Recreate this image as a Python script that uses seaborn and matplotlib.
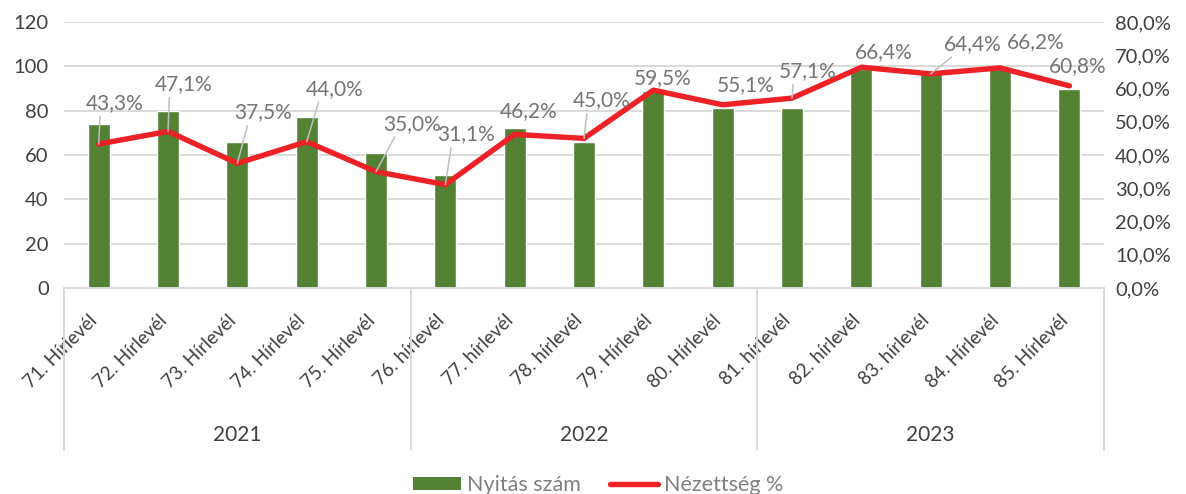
import matplotlib
matplotlib.use("Agg")
import matplotlib.pyplot as plt
import matplotlib.transforms as mtransforms
from matplotlib.lines import Line2D
from matplotlib.patches import Patch
import numpy as np
import pandas as pd
import seaborn as sns

# ---- data ----
newsletters = ["71. Hírlevél", "72. Hírlevél", "73. Hírlevél", "74. Hírlevél", "75. Hírlevél",
               "76. hírlevél", "77. hírlevél", "78. hírlevél", "79. Hírlevél", "80. Hírlevél",
               "81. hírlevél", "82. hírlevél", "83. hírlevél", "84. Hírlevél", "85. Hírlevél"]
years = ["2021", "2022", "2023"]
year_sizes = [5, 5, 5]
opens = [74, 80, 66, 77, 61, 51, 72, 66, 89, 81, 81, 99, 97, 99, 90]
view_pct = [43.3, 47.1, 37.5, 44.0, 35.0, 31.1, 46.2, 45.0, 59.5, 55.1, 57.1, 66.4, 64.4, 66.2, 60.8]
left_ticks = [0, 20, 40, 60, 80, 100, 120]
right_ticks = [0, 10, 20, 30, 40, 50, 60, 70, 80]

# label offsets (pixels) and whether a leader line is drawn
label_offsets = [(16, 41), (16, 47), (26, 51), (28, 53), (36, 48), (21, 50), (14, 23), (18, 38),
                 (9, 12), (23, 20), (16, 27), (22, 15), (42, 30), (36, 26), (8, 20)]
leader = [True, True, True, True, True, True, False, True, False, False, True, False, True, False, False]

GREEN = "#548235"
RED = "#EE2127"
GRID = "#D9D9D9"
TXT = "#404040"
LBL = "#757575"

sns.set_theme(style="white")
plt.rcParams["font.family"] = ["Lato", "DejaVu Sans"]

W, H = 1186, 494
fig = plt.figure(figsize=(W / 100, H / 100), dpi=100)
x0, x1, y0, y1 = 64, 1104, 288, 22
ax = fig.add_axes([x0 / W, (H - y0) / H, (x1 - x0) / W, (y0 - y1) / H])

df = pd.DataFrame({"hirlevel": newsletters, "nyitas": opens, "pct": view_pct})
sns.barplot(data=df, x="hirlevel", y="nyitas", ax=ax, color=GREEN, width=0.32,
            saturation=1, zorder=2)
ax.set_xlim(-0.5, len(newsletters) - 0.5)
ax.set_ylim(0, 120)
ax.set_yticks(left_ticks)
ax.set_yticklabels([str(t) for t in left_ticks], fontsize=14.5, color=TXT)
ax.set_xlabel("")
ax.set_ylabel("")
for s in ax.spines.values():
    s.set_visible(False)
for t in left_ticks:
    ax.axhline(t, color=GRID, lw=1.4, zorder=0)
ax.tick_params(axis="y", length=0, pad=11)
ax.tick_params(axis="x", length=0, pad=24)
ax.set_xticks(range(len(newsletters)))
ax.set_xticklabels(newsletters, rotation=45, ha="right", va="baseline",
                   rotation_mode="anchor", fontsize=13.5, color=TXT)

ax2 = ax.twinx()
sns.lineplot(x=np.arange(len(newsletters)), y=np.array(view_pct), ax=ax2, color=RED,
             lw=3.9, solid_capstyle="round", solid_joinstyle="round", zorder=3)
ax2.set_ylim(0, 80)
ax2.set_yticks(right_ticks)
ax2.set_yticklabels([f"{t},0%" for t in right_ticks], fontsize=14.5, color=TXT)
ax2.tick_params(axis="y", length=0, pad=8)
ax2.set_ylabel("")
for s in ax2.spines.values():
    s.set_visible(False)

for i, (v, off, ld) in enumerate(zip(view_pct, label_offsets, leader)):
    txt = f"{v:.1f}%".replace(".", ",")
    kw = {}
    if ld:
        kw["arrowprops"] = dict(arrowstyle="-", color="#BFBFBF", lw=1.1,
                                shrinkA=0, shrinkB=0, relpos=(0.25, 0.1))
    ax2.annotate(txt, xy=(i, v), xytext=off, textcoords="offset pixels",
                 ha="center", va="center", fontsize=15, color=LBL, zorder=4, **kw)

# hierarchical category axis
trans = mtransforms.blended_transform_factory(ax.transData, ax.transAxes)
sep_bottom = -(450 - y0) / (y0 - y1)
bounds = np.cumsum([0] + year_sizes) - 0.5
ax.add_line(Line2D([-0.5, len(newsletters) - 0.5], [0, 0], transform=trans,
                   color=GRID, lw=1.4, clip_on=False))
for b in bounds:
    ax.add_line(Line2D([b, b], [0, sep_bottom], transform=trans, color=GRID,
                       lw=1.4, clip_on=False))
year_y = -(435 - y0) / (y0 - y1)
for k, yr in enumerate(years):
    cx = (bounds[k] + bounds[k + 1]) / 2
    ax.text(cx, year_y, yr, transform=trans, ha="center", va="center",
            fontsize=15, color=TXT)

handles = [Patch(facecolor=GREEN, edgecolor="none"),
           Line2D([0], [0], color=RED, lw=3.9, solid_capstyle="round")]
fig.legend(handles, ["Nyitás szám", "Nézettség %"], loc="center",
           bbox_to_anchor=(0.5046, (H - 485) / H), ncol=2, frameon=False,
           fontsize=15.5, labelcolor="#808080", handlelength=2.23, handleheight=0.55,
           handletextpad=0.28, columnspacing=1.35)

fig.savefig("out.png", dpi=100)
